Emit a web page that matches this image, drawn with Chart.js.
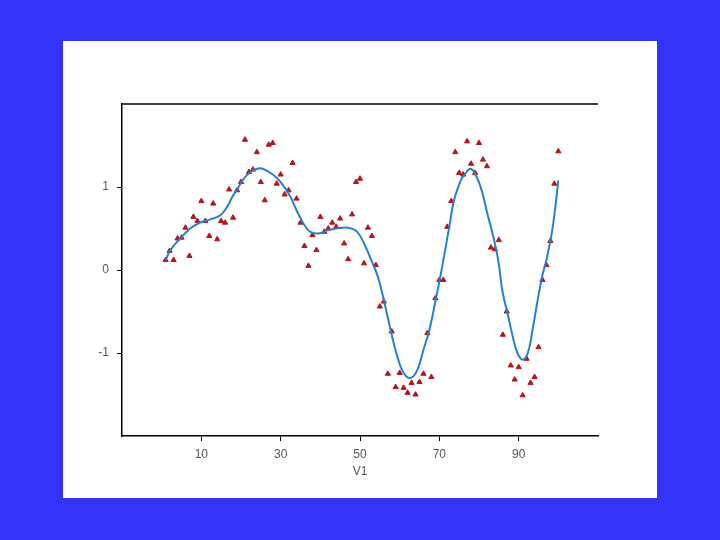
<!DOCTYPE html>
<html lang="en">
<head>
  <meta charset="UTF-8" />
  <title>V1 smooth fit</title>
  <script src="https://cdn.jsdelivr.net/npm/chart.js"></script>
  <style>
    html, body { margin: 0; padding: 0; background: #3434f8; width: 720px; height: 540px; overflow: hidden; }
    #panel { position: absolute; left: 63px; top: 41px; width: 594px; height: 457px; background: #fff; }
  </style>
</head>
<body>
  <div id="panel">
    <canvas id="chartV1" width="594" height="457"></canvas>
  </div>

  <script>
    // observed values, one per V1 = 1..100
    const obsY = [
      0.12, 0.23, 0.12, 0.38, 0.39, 0.51, 0.17, 0.64, 0.59, 0.83,
      0.59, 0.41, 0.80, 0.37, 0.59, 0.57, 0.97, 0.63, 0.96, 1.06,
      1.57, 1.18, 1.21, 1.42, 1.06, 0.84, 1.51, 1.53, 1.04, 1.15,
      0.91, 0.96, 1.29, 0.86, 0.57, 0.29, 0.05, 0.42, 0.24, 0.64,
      0.46, 0.50, 0.57, 0.52, 0.62, 0.32, 0.13, 0.67, 1.06, 1.10,
      0.08, 0.51, 0.41, 0.06, -0.44, -0.38, -1.25, -0.74, -1.41, -1.24,
      -1.42, -1.48, -1.36, -1.50, -1.35, -1.25, -0.76, -1.29, -0.34, -0.12,
      -0.12, 0.52, 0.83, 1.42, 1.17, 1.15, 1.55, 1.28, 1.17, 1.53,
      1.33, 1.25, 0.27, 0.25, 0.36, -0.78, -0.50, -1.15, -1.32, -1.17,
      -1.51, -1.07, -1.36, -1.29, -0.93, -0.12, 0.06, 0.35, 1.04, 1.43
    ];

    // smooth curve
    const curveX = [1, 2.2, 4.7, 7.2, 9.7, 12.3, 14.8, 16.5, 17.8, 19.4, 20.7, 22.4, 24.1, 25.5, 28, 30, 32.5, 34, 36, 37.5,
                    39.5, 42, 44, 47, 49.3, 51.4, 53, 54.5, 56, 57.7, 59.4, 61, 62.8, 64.5, 66, 67.4, 69, 70.4,
                    72.5, 73.7, 75.4, 76.2, 77.9, 79.6, 80.9, 82.1, 83.4, 84.7, 86, 87.2, 88.5, 89.7, 91, 92.3,
                    93.5, 94.8, 96, 97, 98.6, 100];
    const curveY = [0.12, 0.24, 0.38, 0.50, 0.57, 0.61, 0.66, 0.76, 0.88, 1.00, 1.10, 1.18, 1.22, 1.22, 1.15, 1.06, 0.88, 0.72, 0.54, 0.46,
                    0.44, 0.48, 0.50, 0.51, 0.46, 0.28, 0.10, -0.08, -0.36, -0.72, -1.04, -1.24, -1.30, -1.20, -0.96, -0.74, -0.38, -0.04,
                    0.52, 0.84, 1.08, 1.14, 1.22, 1.10, 0.92, 0.68, 0.44, 0.16, -0.28, -0.52, -0.80, -1.00, -1.08, -1.00,
                    -0.72, -0.36, -0.06, 0.12, 0.52, 1.08];

    const xTicks = [10, 30, 50, 70, 90];
    const yTicks = [-1, 0, 1];

    const obsPoints = obsY.map((y, i) => ({ x: i + 1, y: y }));
    const curvePoints = curveX.map((x, i) => ({ x: x, y: curveY[i] }));

    // top frame line
    const topLine = {
      id: 'topLine',
      afterDraw(chart) {
        const { ctx, chartArea } = chart;
        ctx.save();
        ctx.strokeStyle = '#000';
        ctx.lineWidth = 1.5;
        ctx.beginPath();
        ctx.moveTo(chartArea.left, chartArea.top);
        ctx.lineTo(chartArea.right, chartArea.top);
        ctx.stroke();
        ctx.restore();
      }
    };

    const tickFont = { family: 'Liberation Sans, Arial, sans-serif', size: 12 };

    new Chart(document.getElementById('chartV1'), {
      type: 'scatter',
      data: {
        datasets: [
          {
            label: 'fit',
            data: curvePoints,
            showLine: true,
            borderColor: '#2680d2',
            borderWidth: 2,
            pointRadius: 0,
            tension: 0.4,
            order: 0
          },
          {
            label: 'V2',
            data: obsPoints,
            pointStyle: 'triangle',
            pointRadius: 3,
            backgroundColor: '#b3161d',
            borderColor: '#b3161d',
            borderWidth: 1,
            order: 1
          }
        ]
      },
      options: {
        responsive: false,
        animation: false,
        layout: { padding: { left: 0, top: 63, right: 59, bottom: 0 } },
        plugins: { legend: { display: false }, tooltip: { enabled: false } },
        scales: {
          x: {
            type: 'linear',
            min: -10,
            max: 110,
            afterBuildTicks: (s) => { s.ticks = xTicks.map(v => ({ value: v })); },
            afterFit: (s) => { s.height = 62; },
            grid: { display: true, drawOnChartArea: false, drawTicks: true, tickLength: 5, color: '#000' },
            border: { display: true, color: '#000', width: 1.5 },
            ticks: { color: '#555', font: tickFont, padding: 6, maxRotation: 0 },
            title: { display: true, text: 'V1', color: '#555', font: tickFont, padding: { top: 0, bottom: 19 } }
          },
          y: {
            min: -2,
            max: 2,
            afterBuildTicks: (s) => { s.ticks = yTicks.map(v => ({ value: v })); },
            afterFit: (s) => { s.width = 59; },
            grid: { display: true, drawOnChartArea: false, drawTicks: true, tickLength: 5, color: '#000' },
            border: { display: true, color: '#000', width: 1.5 },
            ticks: { color: '#555', font: tickFont, padding: 8 }
          }
        }
      },
      plugins: [topLine]
    });
  </script>
</body>
</html>
